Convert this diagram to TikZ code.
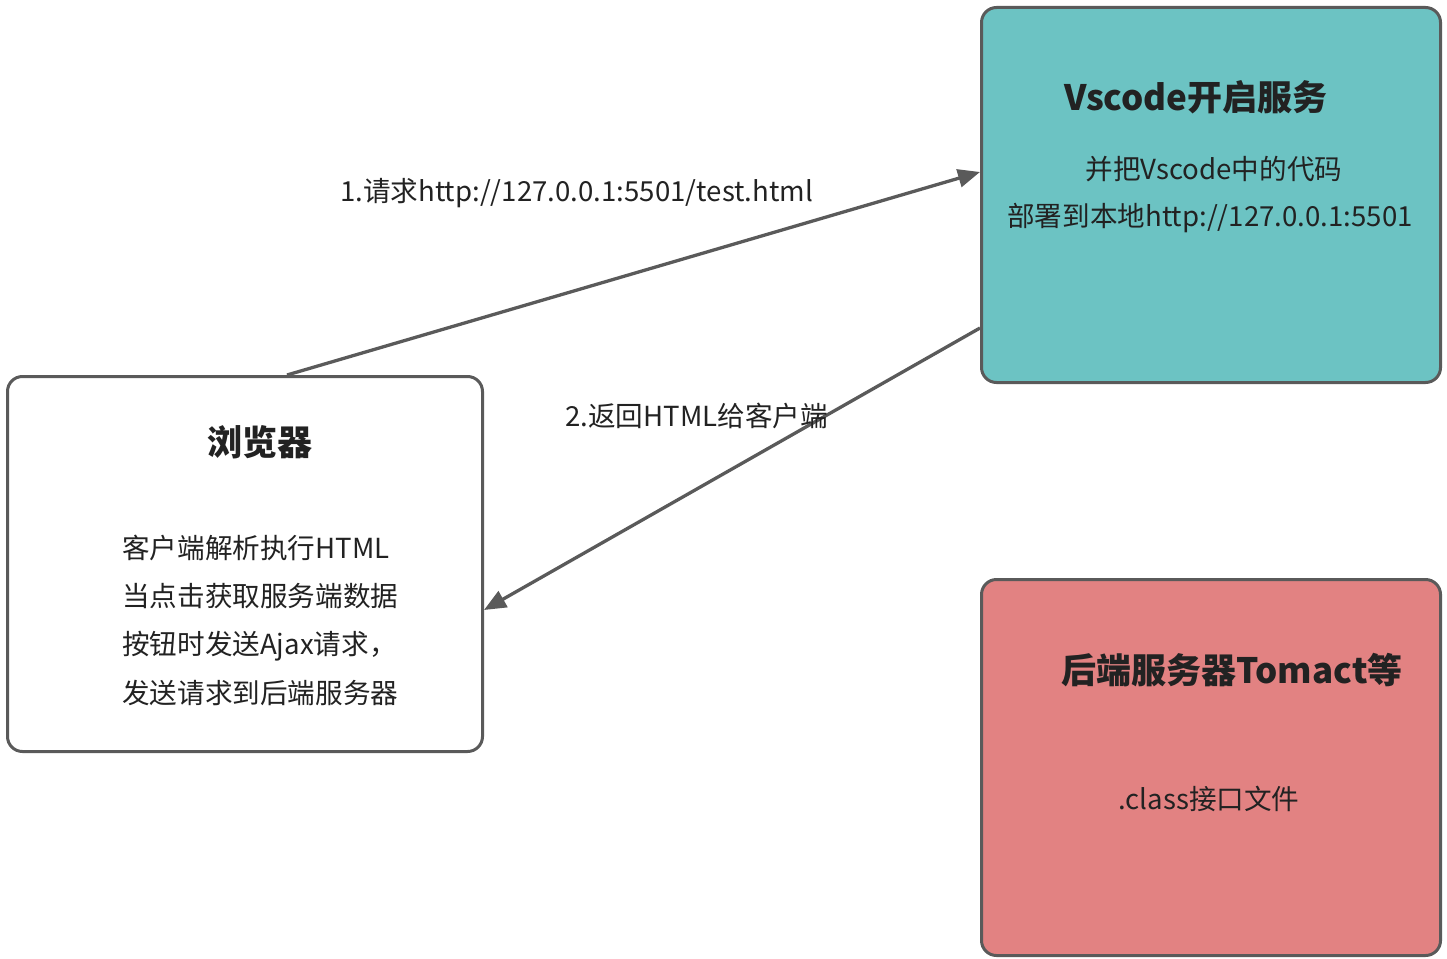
\documentclass[tikz,border=0pt]{standalone}
\usepackage{fontspec}
\setmainfont{Noto Sans CJK SC}
\usetikzlibrary{arrows.meta}
\definecolor{edge}{HTML}{5A5A5A}
\definecolor{ink}{HTML}{222222}
\definecolor{teal}{HTML}{6CC3C3}
\definecolor{rose}{HTML}{E28282}
\tikzset{
  box/.style={draw=edge, line width=3pt, rounded corners=15pt, inner sep=0pt, anchor=north west},
  ttl/.style={text=ink, font=\fontsize{35}{41}\selectfont\bfseries, inner sep=0pt},
  txt/.style={text=ink, font=\fontsize{27.6}{32}\selectfont, inner sep=0pt},
  conn/.style={draw=edge, line width=3.3pt, -{Triangle[length=22pt,width=18pt]}},
}
\begin{document}
\begin{tikzpicture}[x=1pt,y=-1pt]
\useasboundingbox (0,0) rectangle (1447,958);
% boxes
\node[box, fill=white, minimum width=475pt, minimum height=375pt] (browser) at (6,375) {};
\node[box, fill=teal, minimum width=459pt, minimum height=375pt] (vscode) at (980,6) {};
\node[box, fill=rose, minimum width=459pt, minimum height=376pt] (backend) at (980,578) {};
% browser texts
\node[ttl] (btitle) at (260,442) {浏览器};
\node[txt, anchor=west] (b1) at (122,548) {客户端解析执行HTML};
\node[txt, anchor=west] (b2) at (122,596) {当点击获取服务端数据};
\node[txt, anchor=west] (b3) at (122,646) {按钮时发送Ajax请求，};
\node[txt, anchor=west] (b4) at (122,693) {发送请求到后端服务器};
% vscode texts
\node[ttl] (vtitle) at (1196,97) {Vscode开启服务};
\node[txt] (v1) at (1214,169) {并把Vscode中的代码};
\node[txt] (v2) at (1210,218) {部署到本地http://127.0.0.1:5501};
% backend texts
\node[ttl] (ktitle) at (1232,670) {后端服务器Tomact等};
\node[txt] (k1) at (1209,799) {.class接口文件};
% connectors
\draw[conn] ([xshift=281pt]browser.north west) -- ([yshift=-166pt]vscode.north west);
\draw[conn] ([yshift=-322pt]vscode.north west) -- ([yshift=-235pt]browser.north east);
% labels
\node[txt, anchor=west] (l1) at (340,193) {1.请求http://127.0.0.1:5501/test.html};
\node[txt, anchor=west] (l2) at (565,416) {2.返回HTML给客户端};
\end{tikzpicture}
\end{document}
